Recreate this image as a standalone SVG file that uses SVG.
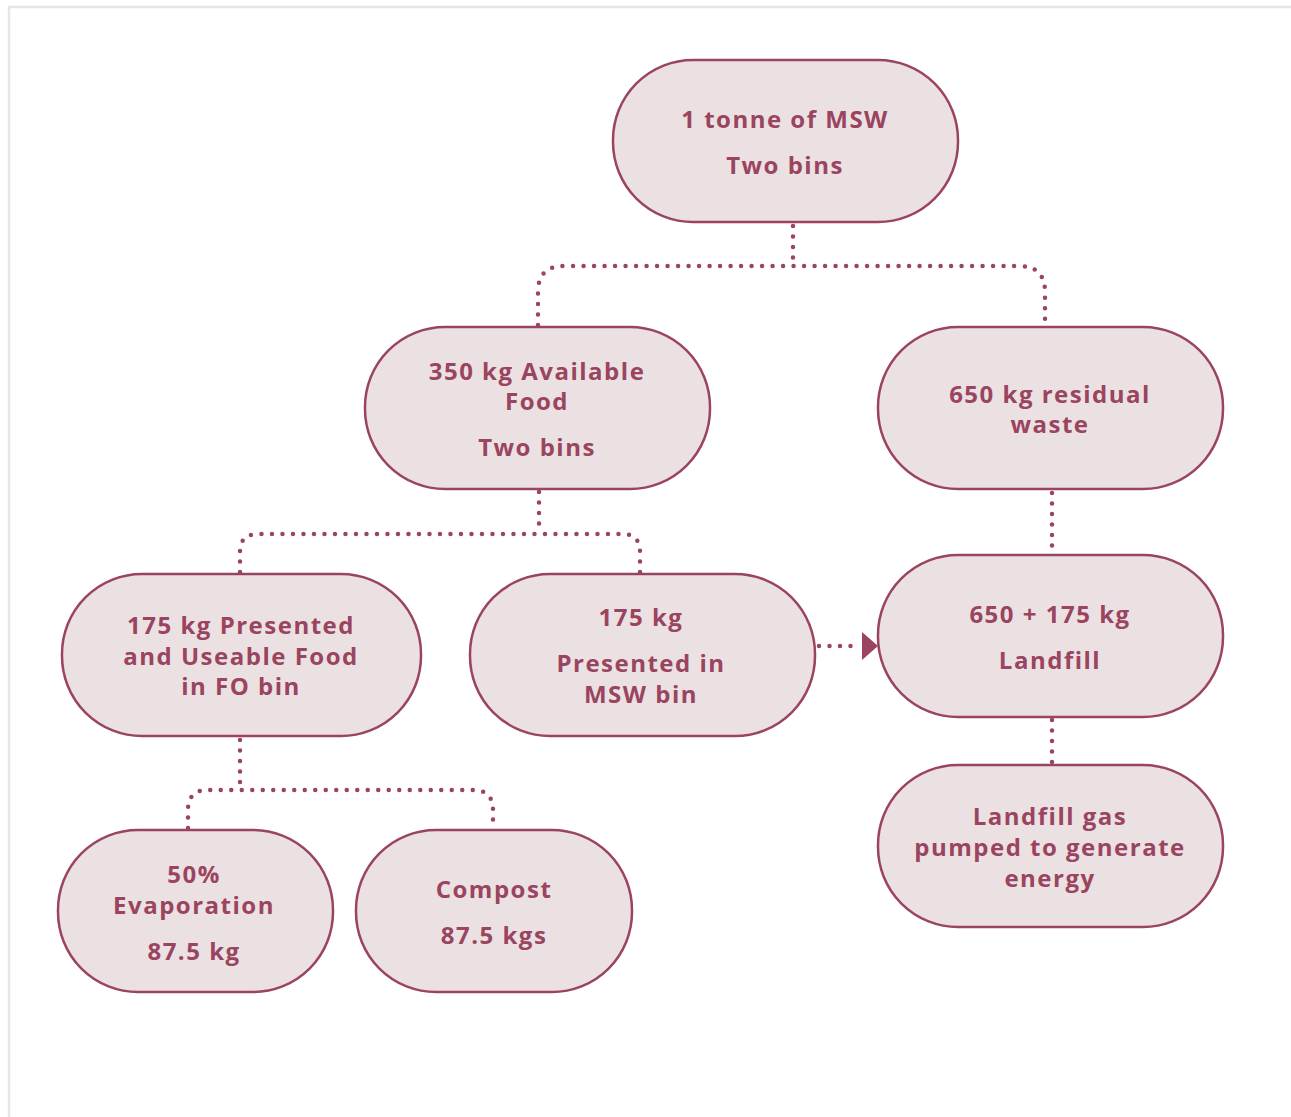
<svg xmlns="http://www.w3.org/2000/svg" width="1291" height="1117" viewBox="0 0 1291 1117">
<style>
.n{fill:#ebe1e3;stroke:#9a4460;stroke-width:2.5}
.t{fill:#9a4460;font-family:"Open Sans","Noto Sans",sans-serif;font-weight:bold;font-size:24px;text-anchor:middle;letter-spacing:1.5px}
.c{fill:none;stroke:#9a4460;stroke-width:4.5;stroke-linecap:round;stroke-dasharray:0 10.5}
</style>
<rect x="0" y="0" width="1291" height="1117" fill="#fff"/>
<path d="M9 1117 V7 H1291" fill="none" stroke="#e6e6e6" stroke-width="2.5"/>
<g id="connectors">
<path class="c" d="M793 226 V266"/>
<path class="c" d="M538 325 V292 Q538 266 564 266 H1019 Q1045 266 1045 292 V325"/>
<path class="c" d="M539 492 V534"/>
<path class="c" d="M240 572 V552 Q240 534 258 534 H622 Q640 534 640 552 V572"/>
<path class="c" d="M1052 493 V553"/>
<path class="c" d="M1052 720 V763"/>
<path class="c" d="M240 740 V790"/>
<path class="c" d="M188 828 V810 Q188 790 208 790 H473 Q493 790 493 810 V828"/>
<path class="c" d="M819 646 H858"/>
<path d="M862 632 L878 646 L862 660 Z" fill="#9a4460"/>
</g>
<g id="n1"><rect class="n" x="613" y="60" width="345" height="162" rx="80"/>
<text class="t" x="785" y="128">1 tonne of MSW</text><text class="t" x="785" y="174">Two bins</text></g>
<g id="n2"><rect class="n" x="365" y="327" width="345" height="162" rx="80"/>
<text class="t" x="537" y="380">350 kg Available</text><text class="t" x="537" y="410">Food</text><text class="t" x="537" y="456">Two bins</text></g>
<g id="n3"><rect class="n" x="878" y="327" width="345" height="162" rx="80"/>
<text class="t" x="1050" y="403">650 kg residual</text><text class="t" x="1050" y="433">waste</text></g>
<g id="n4"><rect class="n" x="62" y="574" width="359" height="162" rx="80"/>
<text class="t" x="241" y="634">175 kg Presented</text><text class="t" x="241" y="665">and Useable Food</text><text class="t" x="241" y="695">in FO bin</text></g>
<g id="n5"><rect class="n" x="470" y="574" width="345" height="162" rx="80"/>
<text class="t" x="641" y="626">175 kg</text><text class="t" x="641" y="672">Presented in</text><text class="t" x="641" y="703">MSW bin</text></g>
<g id="n6"><rect class="n" x="878" y="555" width="345" height="162" rx="80"/>
<text class="t" x="1050" y="623">650 + 175 kg</text><text class="t" x="1050" y="669">Landfill</text></g>
<g id="n7"><rect class="n" x="58" y="830" width="275" height="162" rx="80"/>
<text class="t" x="194" y="883">50%</text><text class="t" x="194" y="914">Evaporation</text><text class="t" x="194" y="960">87.5 kg</text></g>
<g id="n8"><rect class="n" x="356" y="830" width="276" height="162" rx="80"/>
<text class="t" x="494" y="898">Compost</text><text class="t" x="494" y="944">87.5 kgs</text></g>
<g id="n9"><rect class="n" x="878" y="765" width="345" height="162" rx="80"/>
<text class="t" x="1050" y="825">Landfill gas</text><text class="t" x="1050" y="856">pumped to generate</text><text class="t" x="1050" y="887">energy</text></g>
</svg>
